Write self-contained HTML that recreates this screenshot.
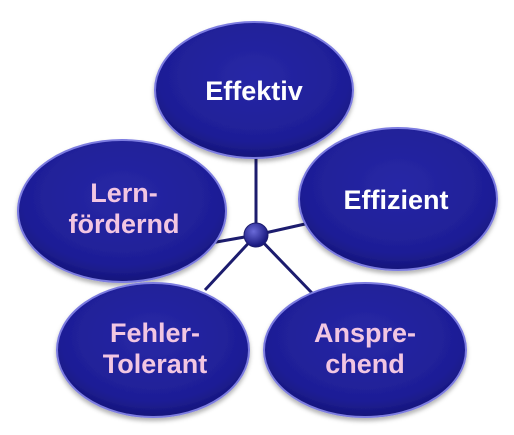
<!DOCTYPE html>
<html><head><style>
html,body{margin:0;padding:0;background:#fff;width:514px;height:435px;overflow:hidden}
text{font-family:"Liberation Sans",Arial,sans-serif;font-weight:bold;font-size:27px;text-anchor:middle}
</style></head><body>
<svg width="514" height="435" viewBox="0 0 514 435">
<defs>
<radialGradient id="g" cx="50%" cy="40%" r="60%">
<stop offset="0" stop-color="#2828a6"/><stop offset="0.8" stop-color="#1e1e96"/><stop offset="1" stop-color="#15157a"/>
</radialGradient>
<radialGradient id="h" cx="40%" cy="35%" r="60%">
<stop offset="0" stop-color="#6a6ad8"/><stop offset="1" stop-color="#1a1a80"/>
</radialGradient>
<filter id="s" x="-10%" y="-10%" width="120%" height="130%"><feDropShadow dx="0" dy="3" stdDeviation="2" flood-color="#000" flood-opacity="0.3"/></filter>
</defs>
<g stroke="#1c1c6e" stroke-width="3">
<line x1="256" y1="150" x2="256" y2="235"/>
<line x1="256" y1="235" x2="205" y2="244"/>
<line x1="256" y1="235" x2="305" y2="224"/>
<line x1="256" y1="235" x2="205" y2="290"/>
<line x1="256" y1="235" x2="312" y2="293"/>
</g>
<g filter="url(#s)" stroke="#7b7be0" stroke-width="2" fill="url(#g)">
<ellipse cx="254" cy="90" rx="99" ry="68"/>
<ellipse cx="122" cy="211" rx="104" ry="71"/>
<ellipse cx="398" cy="199" rx="99" ry="71"/>
<ellipse cx="153" cy="350" rx="96" ry="67"/>
<ellipse cx="365" cy="350" rx="101" ry="67"/>
</g>
<circle cx="256" cy="235" r="12" fill="url(#h)" stroke="#1c1c6e" stroke-width="1"/>
<text x="254" y="100" fill="#fff">Effektiv</text>
<text x="396" y="209" fill="#fff">Effizient</text>
<g fill="#f2c6e2">
<text x="124" y="202">Lern-</text>
<text x="124" y="233">fördernd</text>
<text x="155" y="342">Fehler-</text>
<text x="155" y="373">Tolerant</text>
<text x="365" y="342">Anspre-</text>
<text x="365" y="373">chend</text>
</g>
</svg>
</body></html>
